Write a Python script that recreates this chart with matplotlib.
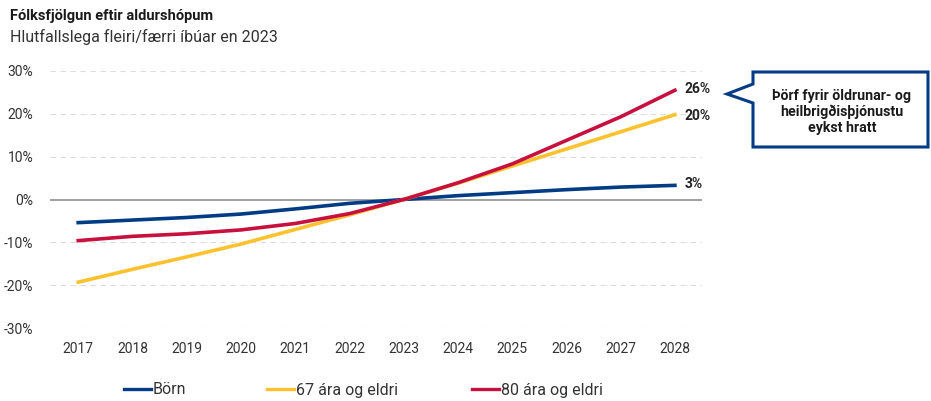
import matplotlib.pyplot as plt
from matplotlib.patches import Polygon
from matplotlib.ticker import FuncFormatter

plt.rcParams['font.family'] = ['Roboto', 'DejaVu Sans']

years = [2017, 2018, 2019, 2020, 2021, 2022, 2023, 2024, 2025, 2026, 2027, 2028]
born = [-5.4, -4.8, -4.2, -3.4, -2.2, -0.9, 0.0, 0.9, 1.6, 2.3, 2.9, 3.3]
aldr67 = [-19.3, -16.3, -13.4, -10.4, -7.0, -3.6, 0.0, 3.8, 7.8, 11.8, 15.8, 19.8]
aldr80 = [-9.6, -8.6, -8.0, -7.1, -5.6, -3.3, 0.0, 3.9, 8.3, 13.8, 19.3, 25.5]
end_labels = ['3%', '20%', '26%']
yticks = [-30, -20, -10, 0, 10, 20, 30]

BLUE = '#033c84'
YELLOW = '#fcc12e'
RED = '#c8103e'

W, H = 931, 401
fig = plt.figure(figsize=(W / 100, H / 100), dpi=100)
ax = fig.add_axes([50 / W, 1 - 328 / H, (702 - 50) / W, (328 - 71) / H])

for y in yticks:
    if y == 0:
        ax.axhline(0, color='#999999', lw=1.3, zorder=1)
    else:
        ax.axhline(y, color='#dddddd', lw=0.8, ls=(0, (5, 4)), zorder=0)

lines = []
lines += ax.plot(years, born, color=BLUE, lw=2.6, label='Börn', zorder=3)
lines += ax.plot(years, aldr67, color=YELLOW, lw=2.6, label='67 ára og eldri', zorder=3)
lines += ax.plot(years, aldr80, color=RED, lw=2.6, label='80 ára og eldri', zorder=4)

# end-of-line labels
ends = [born[-1] + 0.3, aldr67[-1] - 0.2, aldr80[-1] + 0.3]
for val, lab in zip(ends, end_labels):
    ax.annotate(lab, (years[-1], val), xytext=(7, 0), textcoords='offset points',
                ha='left', va='center', fontsize=10, fontweight='bold', color='#222222')

ax.set_xlim(2016.48, 2028.5)
ax.set_ylim(-30, 30)
ax.set_xticks(years)
ax.set_yticks(yticks)
ax.yaxis.set_major_formatter(FuncFormatter(lambda v, p: f'{v:.0f}%'))
ax.tick_params(length=0, labelsize=10, colors='#333333')
ax.tick_params(axis='x', pad=10)
ax.tick_params(axis='y', pad=12)
for s in ax.spines.values():
    s.set_visible(False)

fig.text(10 / W, 1 - 16 / H, 'Fólksfjölgun eftir aldurshópum', fontsize=10.5,
         fontweight='bold', color='#1a1a1a', va='center')
fig.text(10 / W, 1 - 37 / H, 'Hlutfallslega fleiri/færri íbúar en 2023', fontsize=11.5,
         color='#333333', va='center')

# callout box
pts = [(753, 72), (928, 72), (928, 147), (753, 147), (753, 103), (727, 94), (753, 84)]
poly = Polygon([(x / W, 1 - y / H) for x, y in pts], closed=True, transform=fig.transFigure,
               facecolor='white', edgecolor=BLUE, lw=2.2, joinstyle='miter')
fig.patches.append(poly)
fig.text(842 / W, 1 - 112 / H, 'Þörf fyrir öldrunar- og\nheilbrigðisþjónustu\neykst hratt',
         ha='center', va='center', fontsize=10.2, fontweight='bold', color='#1a1a1a',
         linespacing=1.15)

# one legend entry per series, placed like the original
for line, x0 in zip(lines, [124, 267, 472]):
    leg = fig.legend(handles=[line], loc='center left', bbox_to_anchor=(x0 / W, 1 - 390 / H),
                     frameon=False, fontsize=11.5, handlelength=1.7, handletextpad=0.1,
                     borderaxespad=0, borderpad=0, labelcolor='#333333')
    leg.get_lines()[0].set_linewidth(2.4)

fig.savefig('out.png', dpi=100)
